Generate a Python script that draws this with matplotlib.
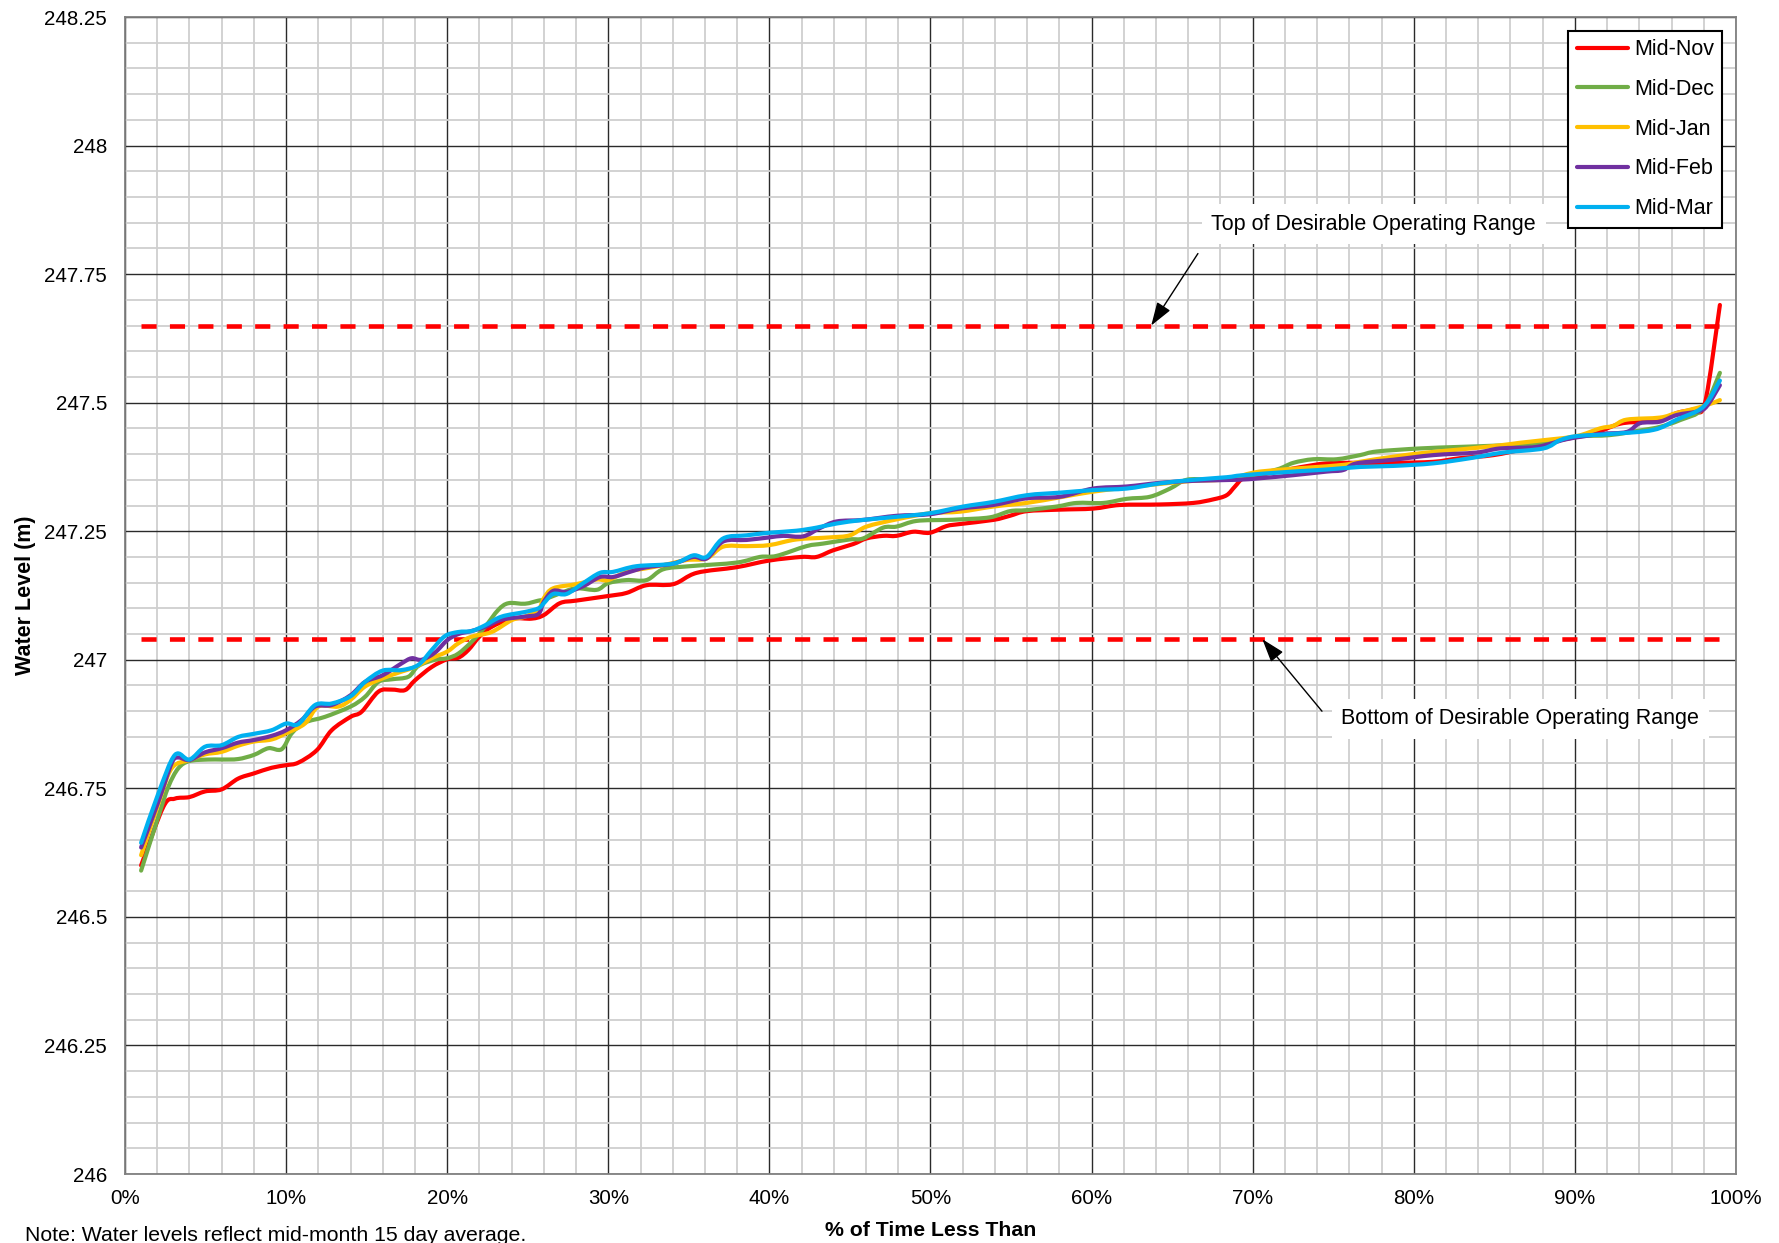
import matplotlib
matplotlib.use("Agg")
import matplotlib.pyplot as plt
from matplotlib.ticker import MultipleLocator, FixedLocator
from matplotlib.path import Path
from matplotlib.patches import PathPatch
from matplotlib.lines import Line2D

plt.rcParams['font.family'] = ['Liberation Sans', 'DejaVu Sans']

# ---------------- data ----------------
nov_x = [1.0, 2.38, 3.1, 4.0, 4.97, 6.0, 7.03, 8.0, 9.1, 10.0, 10.76, 11.9, 12.83, 14.0, 14.69, 15.73, 16.55,
         17.38, 18.0, 19.04, 20.0, 20.69, 21.31, 22.0, 22.76, 24.0, 25.24, 26.0, 26.99, 27.99, 29.99, 31.13,
         32.37, 34.03, 35.48, 37.96, 39.99, 41.99, 42.93, 43.96, 45.2, 46.03, 47.06, 47.89, 48.93, 49.96, 50.99,
         51.83, 53.9, 54.93, 55.97, 58.04, 60.1, 61.76, 64.24, 66.31, 67.56, 68.38, 68.9, 69.42, 70.45, 72.52,
         74.59, 76.66, 78.73, 81.21, 82.87, 84.94, 87.0, 89.07, 91.14, 92.8, 94.25, 95.28, 96.32, 97.35, 98.07, 99.0]
nov_y = [246.60, 246.714, 246.73, 246.733, 246.744, 246.748, 246.769, 246.779, 246.79, 246.795, 246.80, 246.824,
         246.863, 246.889, 246.899, 246.938, 246.942, 246.941, 246.96, 246.986, 247.001, 247.004, 247.019, 247.045,
         247.064, 247.08, 247.08, 247.087, 247.11, 247.115, 247.124, 247.13, 247.145, 247.147, 247.169, 247.18,
         247.193, 247.2, 247.2, 247.213, 247.225, 247.236, 247.241, 247.241, 247.249, 247.247, 247.26, 247.264,
         247.272, 247.28, 247.289, 247.292, 247.294, 247.301, 247.302, 247.305, 247.312, 247.32, 247.337, 247.353,
         247.359, 247.372, 247.382, 247.383, 247.383, 247.385, 247.392, 247.398, 247.411, 247.427, 247.44, 247.459,
         247.463, 247.466, 247.48, 247.487, 247.499, 247.69]

dec_x = [1.0, 2.07, 2.69, 3.31, 4.0, 5.17, 6.0, 7.03, 8.0, 8.9, 9.72, 10.35, 11.17, 12.41, 14.0, 14.9, 15.73,
         16.55, 17.59, 18.21, 19.24, 20.0, 20.69, 21.52, 22.35, 23.17, 23.8, 24.83, 25.66, 26.0, 26.99, 27.99,
         29.27, 29.99, 31.13, 32.37, 33.41, 35.06, 37.96, 39.41, 40.44, 42.3, 43.34, 44.99, 45.82, 47.06, 47.89,
         49.13, 50.99, 51.83, 53.69, 54.93, 55.97, 57.83, 59.07, 60.73, 62.18, 63.62, 64.87, 65.9, 67.35, 69.42,
         71.49, 72.52, 73.76, 75.21, 76.66, 77.69, 80.38, 82.87, 85.56, 88.04, 90.11, 92.18, 94.25, 95.28, 96.52,
         97.97, 99.0]
dec_y = [246.59, 246.695, 246.753, 246.789, 246.803, 246.806, 246.806, 246.807, 246.815, 246.828, 246.826,
         246.857, 246.878, 246.889, 246.909, 246.928, 246.957, 246.962, 246.967, 246.988, 247.0, 247.003, 247.012,
         247.035, 247.064, 247.097, 247.11, 247.109, 247.115, 247.117, 247.129, 247.139, 247.136, 247.149, 247.155,
         247.155, 247.176, 247.182, 247.189, 247.2, 247.202, 247.221, 247.226, 247.234, 247.236, 247.257, 247.259,
         247.27, 247.272, 247.273, 247.277, 247.289, 247.291, 247.298, 247.305, 247.305, 247.313, 247.317, 247.333,
         247.35, 247.351, 247.356, 247.37, 247.383, 247.39, 247.39, 247.398, 247.405, 247.411, 247.414, 247.417,
         247.421, 247.434, 247.437, 247.447, 247.453, 247.466, 247.489, 247.558]

jan_x = [1.0, 2.07, 2.9, 4.0, 4.97, 6.0, 7.03, 8.0, 9.1, 10.0, 11.17, 12.0, 13.24, 14.0, 14.9, 16.0, 17.17, 18.0,
         19.04, 20.0, 20.69, 21.52, 22.76, 24.0, 24.83, 25.66, 26.0, 26.58, 27.99, 29.27, 29.99, 31.13, 32.37,
         33.41, 34.86, 36.1, 37.13, 38.58, 39.99, 41.68, 43.75, 44.99, 46.03, 47.89, 49.96, 51.83, 53.9, 55.97,
         58.04, 60.1, 62.18, 64.24, 66.31, 68.38, 70.04, 71.49, 73.56, 75.62, 76.66, 78.73, 80.8, 82.87, 85.35,
         86.59, 88.04, 90.11, 91.56, 92.39, 93.21, 95.28, 96.32, 97.97, 99.0]
jan_y = [246.62, 246.72, 246.789, 246.805, 246.816, 246.821, 246.833, 246.841, 246.845, 246.857, 246.876, 246.909,
         246.909, 246.922, 246.948, 246.964, 246.977, 246.986, 247.003, 247.016, 247.032, 247.045, 247.054, 247.077,
         247.084, 247.097, 247.12, 247.139, 247.147, 247.156, 247.155, 247.171, 247.178, 247.184, 247.194, 247.197,
         247.22, 247.221, 247.223, 247.234, 247.238, 247.242, 247.259, 247.273, 247.285, 247.288, 247.298, 247.305,
         247.316, 247.327, 247.335, 247.342, 247.348, 247.351, 247.364, 247.369, 247.374, 247.379, 247.385, 247.395,
         247.403, 247.409, 247.417, 247.422, 247.427, 247.435, 247.45, 247.455, 247.467, 247.471, 247.48, 247.493,
         247.505]

feb_x = [1.0, 2.07, 2.9, 3.31, 4.0, 4.97, 6.0, 7.03, 8.0, 9.1, 10.0, 10.97, 11.8, 12.83, 14.0, 14.9, 16.0, 17.17,
         17.79, 18.41, 19.24, 20.0, 20.69, 21.52, 22.35, 23.38, 24.83, 25.66, 26.0, 26.58, 27.41, 28.44, 29.48,
         30.3, 31.34, 32.37, 34.03, 35.27, 36.1, 37.13, 38.58, 39.99, 40.86, 42.1, 43.13, 44.17, 45.82, 47.89,
         49.96, 51.83, 53.9, 55.97, 58.04, 60.1, 62.18, 64.24, 66.31, 69.0, 70.45, 72.52, 74.59, 75.62, 76.45,
         78.73, 81.21, 83.9, 85.35, 87.63, 89.49, 91.56, 93.21, 94.04, 95.28, 96.32, 97.76, 98.28, 99.0]
feb_y = [246.635, 246.724, 246.799, 246.81, 246.805, 246.82, 246.828, 246.839, 246.844, 246.852, 246.863, 246.883,
         246.909, 246.912, 246.931, 246.957, 246.97, 246.993, 247.003, 247.0, 247.014, 247.038, 247.05, 247.056,
         247.064, 247.078, 247.084, 247.089, 247.113, 247.134, 247.132, 247.143, 247.161, 247.161, 247.171, 247.18,
         247.187, 247.2, 247.197, 247.23, 247.233, 247.238, 247.241, 247.24, 247.256, 247.269, 247.272, 247.28,
         247.283, 247.294, 247.301, 247.314, 247.317, 247.333, 247.337, 247.344, 247.348, 247.35, 247.353, 247.359,
         247.366, 247.369, 247.382, 247.389, 247.398, 247.403, 247.411, 247.414, 247.429, 247.439, 247.443, 247.46,
         247.463, 247.476, 247.484, 247.497, 247.534]

mar_x = [1.0, 2.07, 3.1, 4.0, 4.97, 6.0, 7.03, 8.0, 9.1, 10.0, 10.76, 11.8, 12.83, 14.0, 14.9, 16.0, 17.17, 18.21,
         19.04, 19.86, 20.69, 21.52, 22.35, 23.38, 24.83, 25.66, 26.0, 26.58, 27.41, 28.44, 29.48, 30.3, 31.75,
         34.03, 35.27, 36.1, 37.13, 38.58, 39.99, 41.68, 42.93, 44.17, 45.82, 47.89, 49.96, 52.03, 53.9, 55.97,
         58.04, 60.1, 62.18, 64.24, 66.31, 68.38, 69.42, 72.52, 74.59, 76.66, 78.73, 81.21, 83.49, 85.56, 88.04,
         89.07, 90.11, 92.18, 94.87, 96.32, 97.97, 99.0]
mar_y = [246.644, 246.74, 246.815, 246.806, 246.831, 246.834, 246.85, 246.856, 246.863, 246.876, 246.875, 246.912,
         246.915, 246.929, 246.957, 246.979, 246.98, 246.99, 247.019, 247.046, 247.054, 247.056, 247.067, 247.084,
         247.093, 247.1, 247.11, 247.128, 247.128, 247.149, 247.169, 247.171, 247.182, 247.187, 247.203, 247.2,
         247.236, 247.242, 247.247, 247.251, 247.257, 247.265, 247.272, 247.278, 247.285, 247.298, 247.307, 247.32,
         247.325, 247.33, 247.333, 247.343, 247.35, 247.355, 247.359, 247.366, 247.37, 247.375, 247.377, 247.382,
         247.392, 247.403, 247.411, 247.427, 247.435, 247.439, 247.447, 247.467, 247.492, 247.543]

series_labels = ["Mid-Nov", "Mid-Dec", "Mid-Jan", "Mid-Feb", "Mid-Mar"]
series_colors = ["#FF0000", "#70AD47", "#FFC000", "#7030A0", "#00B0F0"]

range_top = 247.65
range_bottom = 247.04
range_x = [1.0, 99.0]

y_ticks = [246, 246.25, 246.5, 246.75, 247, 247.25, 247.5, 247.75, 248, 248.25]
y_ticklabels = ["246", "246.25", "246.5", "246.75", "247", "247.25", "247.5", "247.75", "248", "248.25"]
x_ticks = [0, 10, 20, 30, 40, 50, 60, 70, 80, 90, 100]
x_ticklabels = [f"{v}%" for v in x_ticks]


def smooth_path(xs, ys):
    """Excel-style smoothed line (Catmull-Rom as cubic Bezier) through the data points."""
    pts = list(zip(xs, ys))
    n = len(pts)
    verts = [pts[0]]
    codes = [Path.MOVETO]
    for i in range(n - 1):
        p0 = pts[i - 1] if i > 0 else pts[i]
        p1 = pts[i]
        p2 = pts[i + 1]
        p3 = pts[i + 2] if i + 2 < n else pts[i + 1]
        c1 = (p1[0] + (p2[0] - p0[0]) / 6.0, p1[1] + (p2[1] - p0[1]) / 6.0)
        c2 = (p2[0] - (p3[0] - p1[0]) / 6.0, p2[1] - (p3[1] - p1[1]) / 6.0)
        verts += [c1, c2, p2]
        codes += [Path.CURVE4] * 3
    return Path(verts, codes)


# ---------------- figure ----------------
fig = plt.figure(figsize=(17.79, 12.43), dpi=100)
ax = fig.add_axes([0.07026, 0.05551, 0.90557, 0.93081])

ax.set_xlim(0, 100)
ax.set_ylim(246, 248.25)

ax.xaxis.set_major_locator(FixedLocator(x_ticks))
ax.yaxis.set_major_locator(FixedLocator(y_ticks))
ax.xaxis.set_minor_locator(MultipleLocator(2))
ax.yaxis.set_minor_locator(MultipleLocator(0.05))
ax.set_xticklabels(x_ticklabels)
ax.set_yticklabels(y_ticklabels)

ax.grid(which='minor', color='#cfcfcf', lw=1.3, zorder=0)
ax.grid(which='major', color='#2a2a2a', lw=1.0, zorder=0.5)
ax.set_axisbelow(True)
ax.tick_params(which='both', length=0)
ax.tick_params(axis='x', labelsize=14.8, pad=11)
ax.tick_params(axis='y', labelsize=14.8, pad=13)
for s in ax.spines.values():
    s.set_color('#808080')
    s.set_linewidth(1.3)

# dashed range lines
for yv in (range_top, range_bottom):
    ax.plot(range_x, [yv, yv], color='#FF0000', lw=3.3, dashes=(3.3, 2.9), zorder=2)

all_x = [nov_x, dec_x, jan_x, feb_x, mar_x]
all_y = [nov_y, dec_y, jan_y, feb_y, mar_y]
handles = []
for xs, ys, lab, col in zip(all_x, all_y, series_labels, series_colors):
    patch = PathPatch(smooth_path(xs, ys), facecolor='none', edgecolor=col, lw=3.0,
                      joinstyle='round', capstyle='round', zorder=3, transform=ax.transData)
    ax.add_patch(patch)
    handles.append(Line2D([], [], color=col, lw=3.0, label=lab, solid_capstyle='round'))

leg = ax.legend(handles=handles, loc='upper right', bbox_to_anchor=(0.9916, 0.9882), borderaxespad=0,
                fontsize=15.5, frameon=True, fancybox=False, edgecolor='black', framealpha=1,
                handlelength=2.4, handletextpad=0.26, labelspacing=0.87, borderpad=0.4)
leg.get_frame().set_linewidth(1.5)
leg.set_zorder(10)

# annotations
arrow_kw = dict(arrowstyle='-|>,head_length=0.9,head_width=0.3', color='black', lw=1.0,
                shrinkA=0, shrinkB=0, mutation_scale=16)
ax.annotate('', xy=(63.7, range_top), xytext=(66.6, 247.79), arrowprops=arrow_kw, zorder=6)
ax.annotate('', xy=(70.6, range_bottom), xytext=(74.3, 246.90), arrowprops=arrow_kw, zorder=6)

box = dict(boxstyle='square,pad=0.45', facecolor='white', edgecolor='none')
ax.text(77.5, 247.847, "Top of Desirable Operating Range", fontsize=15.5, ha='center', va='center',
        bbox=box, zorder=7)
ax.text(86.6, 246.885, "Bottom of Desirable Operating Range", fontsize=15.5, ha='center', va='center',
        bbox=box, zorder=7)

# labels
ax.set_ylabel("Water Level (m)", fontsize=15.5, fontweight='bold')
ax.yaxis.set_label_coords(-0.055, 0.5)
fig.text((0.07026 + 0.90557 / 2), 0.0058, "% of Time Less Than", fontsize=15.3, fontweight='bold',
         ha='center', va='baseline')
fig.text(25 / 1779, 0.0018, "Note: Water levels reflect mid-month 15 day average.", fontsize=15.3,
         ha='left', va='baseline')

fig.savefig("out.png", dpi=100)
